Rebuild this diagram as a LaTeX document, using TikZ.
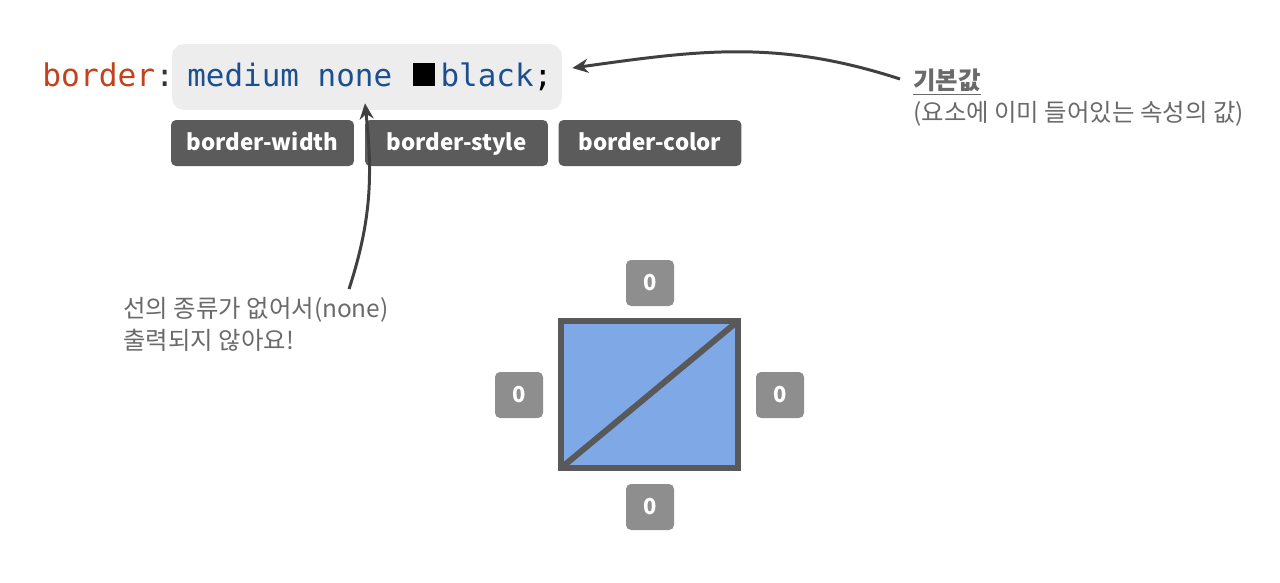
\documentclass[tikz,border=0pt]{standalone}
\usepackage{fontspec}
\setmainfont{Noto Sans CJK KR}
\setmonofont{DejaVu Sans Mono}
\usetikzlibrary{arrows.meta}

\begin{document}
\begin{tikzpicture}[x=0.02cm, y=-0.02cm, >={Stealth[length=9pt,width=8pt]},
    tag/.style={fill=tagcol, rounded corners=0.1cm, minimum width=3.66cm, minimum height=0.92cm, text height=9pt, text depth=0pt, text=white, font=\fontsize{12.7}{15}\selectfont\bfseries},
    zero/.style={fill=zerocol, rounded corners=0.1cm, minimum width=0.96cm, minimum height=0.92cm, text=white, font=\fontsize{12.5}{15}\selectfont\bfseries},
    note/.style={text=notecol, align=left, inner sep=0pt, font=\fontsize{13.9}{18}\selectfont},
    arr/.style={->, draw=arrcol, line width=1.7pt}]
        \definecolor{codered}{HTML}{C2421E}
        \definecolor{codeblue}{HTML}{1C4F8F}
        \definecolor{codebg}{HTML}{EDEDED}
        \definecolor{tagcol}{HTML}{5B5B5B}
        \definecolor{zerocol}{HTML}{8E8E8E}
        \definecolor{notecol}{HTML}{6A6A6A}
        \definecolor{arrcol}{HTML}{404040}
        \definecolor{sqfill}{HTML}{7EA9E6}
        \definecolor{sqline}{HTML}{595959}

        \useasboundingbox (0,0) rectangle (1280,582);

        % code line
        \node[anchor=base west, inner sep=0pt, font=\fontsize{17.8}{20}\selectfont\ttfamily] (prop) at (42,86) {\textcolor{codered}{border}\textcolor{black!80}{:}};
        \node[fill=codebg, rounded corners=0.24cm, minimum width=7.8cm, minimum height=1.32cm] (codebox) at (367,77) {};
        \node[anchor=base west, inner sep=0pt, text=codeblue, font=\fontsize{17.6}{20}\selectfont\ttfamily] (value) at (187,86) {medium none \hspace{1pt}\textcolor{black}{\rule{13pt}{13pt}}\hspace{3pt}black\textcolor{black}{;}};

        % shorthand parts
        \node[tag] (bwidth) at (262.5,143) {border-width};
        \node[tag] (bstyle) at (456.5,143) {border-style};
        \node[tag] (bcolor) at (650,143) {border-color};

        % notes
        \node[note, anchor=north west] (defnote) at (913,69) {\textbf{\underline{기본값}}\\(요소에 이미 들어있는 속성의 값)};
        \node[note, anchor=north west] (nonenote) at (123,297) {선의 종류가 없어서(none)\\출력되지 않아요!};

        \draw[arr] ([xshift=-0.26cm,yshift=-0.2cm]defnote.north west) to[out=162, in=8] ([xshift=0.2cm,yshift=0.18cm]codebox.east);
        \draw[arr] ([xshift=-0.8cm,yshift=0.16cm]nonenote.north east) to[out=72, in=-84] ([xshift=-0.04cm,yshift=0.14cm]codebox.south);

        % box with no border drawn
        \node[draw=sqline, line width=3.4pt, fill=sqfill, outer sep=0pt, inner sep=0pt, minimum width=3.54cm, minimum height=2.94cm] (sq) at (649.5,394.5) {};
        \draw[sqline, line width=3.4pt] (sq.south west) -- (sq.north east);

        \node[zero] (ztop) at (650,283) {0};
        \node[zero] (zbottom) at (650,507) {0};
        \node[zero] (zleft) at (519,395) {0};
        \node[zero] (zright) at (780,395) {0};
\end{tikzpicture}
\end{document}
